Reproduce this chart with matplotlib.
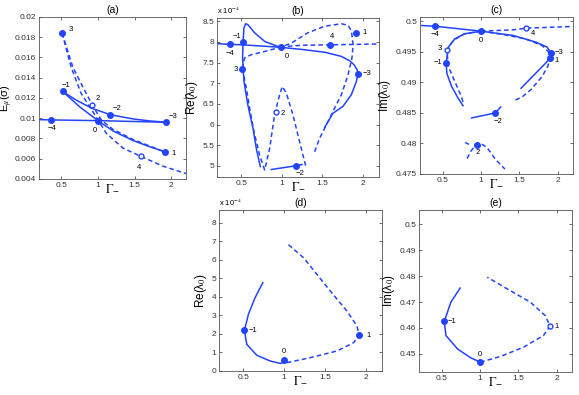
import matplotlib
matplotlib.use('Agg')
import matplotlib.pyplot as plt
from matplotlib.ticker import FuncFormatter

plt.rcParams['font.family'] = ['Liberation Sans', 'DejaVu Sans']
plt.rcParams['mathtext.fontset'] = 'stix'

# ---- panel (a): E_mu(sigma) vs Gamma_- ----
a_flat_x = [0.19, 0.364, 1.0, 1.932]
a_flat_y = [0.00986, 0.00983, 0.00976, 0.0096]
a_m2_x = [0.523, 0.705, 0.923, 1.168, 1.477, 1.705, 1.932]
a_m2_y = [0.01264, 0.01179, 0.01097, 0.01035, 0.00993, 0.00973, 0.0096]
a_m0_x = [0.523, 0.75, 1.0, 1.205, 1.477, 1.705, 1.918]
a_m0_y = [0.01264, 0.01114, 0.00976, 0.00875, 0.0078, 0.00718, 0.00666]
a_d2_x = [0.514, 0.659, 0.795, 0.923, 1.045, 1.205, 1.477, 1.705, 1.918]
a_d2_y = [0.0184, 0.01506, 0.0131, 0.01133, 0.00983, 0.0089, 0.0079, 0.00725, 0.00666]
a_d4_x = [0.514, 0.636, 0.773, 0.932, 1.114, 1.341, 1.582, 1.886, 2.2]
a_d4_y = [0.0184, 0.01506, 0.01244, 0.01065, 0.00852, 0.00705, 0.00624, 0.00526, 0.00453]
a_pts = {'-4': (0.364, 0.00983), '-1': (0.523, 0.01264), '0': (1.0, 0.00976),
         '-2': (1.168, 0.01035), '-3': (1.932, 0.0096), '1': (1.918, 0.00666),
         '3': (0.514, 0.0184), '2': (0.923, 0.01133), '4': (1.582, 0.00624)}
a_open = ['2', '4']

# ---- panel (b): Re(lambda_0), units of 1e-4 ----
b_main_x = [0.19, 0.364, 0.521, 0.98, 1.24, 1.53, 1.735, 1.84, 1.89, 1.93, 1.94,
            1.92, 1.858, 1.755, 1.63, 1.529]
b_main_y = [7.96, 7.94, 7.93, 7.87, 7.82, 7.75, 7.65, 7.54, 7.45, 7.33, 7.23,
            7.04, 6.72, 6.44, 6.27, 5.93]
b_bump_x = [0.735, 0.685, 0.644, 0.58, 0.533, 0.516, 0.521, 0.533, 0.553, 0.58,
            0.665, 0.79, 0.91, 0.98]
b_bump_y = [4.98, 5.42, 5.91, 6.48, 7.04, 7.61, 8.0, 8.34, 8.44, 8.42,
            8.22, 8.01, 7.92, 7.87]
b_bot_x = [0.87, 1.171, 1.25]
b_bot_y = [4.91, 5.0, 5.03]
b_d3_x = [0.512, 0.54, 0.62, 0.79, 0.98, 1.117, 1.32, 1.53, 1.735, 1.82, 1.86,
          1.88, 1.866, 1.817, 1.735, 1.63, 1.53, 1.467, 1.405]
b_d3_y = [7.35, 7.61, 7.69, 7.77, 7.87, 7.97, 8.22, 8.38, 8.44, 8.40, 8.26,
          7.93, 7.61, 7.2, 6.72, 6.31, 5.91, 5.67, 5.34]
b_dh_x = [0.98, 1.25, 1.59, 1.9, 2.2]
b_dh_y = [7.88, 7.92, 7.93, 7.94, 7.95]
b_dv_x = [0.512, 0.562, 0.603, 0.656, 0.726, 0.788, 0.85, 0.91, 0.973, 1.006,
          1.056, 1.138, 1.22, 1.302]
b_dv_y = [7.35, 6.88, 6.39, 5.83, 5.26, 4.9, 5.42, 6.23, 6.72, 6.92,
          6.76, 6.23, 5.58, 4.94]
b_pts = {'-4': (0.364, 7.94), '-1': (0.521, 8.0), '3': (0.512, 7.35), '0': (0.99, 7.87),
         '4': (1.59, 7.93), '1': (1.92, 8.22), '-3': (1.94, 7.23), '2': (0.924, 6.3),
         '-2': (1.171, 5.0)}
b_open = ['2']

# ---- panel (c): Im(lambda_0) ----
c_main_x = [0.22, 0.394, 1.0, 1.416, 1.711, 1.859, 1.914, 1.90, 1.859, 1.753, 1.627, 1.521]
c_main_y = [0.4993, 0.49919, 0.49838, 0.49768, 0.4966, 0.49579, 0.49482, 0.4940,
            0.49336, 0.49201, 0.49039, 0.48904]
c_left_x = [1.0, 0.783, 0.656, 0.572, 0.542, 0.551, 0.614, 0.698, 0.762]
c_left_y = [0.49838, 0.49795, 0.49714, 0.49579, 0.4932, 0.49147, 0.48931, 0.48742, 0.48618]
c_bot_x = [0.876, 1.184, 1.255]
c_bot_y = [0.48418, 0.48499, 0.48596]
c_dh_x = [1.0, 1.416, 1.584, 2.2]
c_dh_y = [0.49838, 0.4986, 0.49887, 0.49915]
c_dr_x = [1.0, 1.3, 1.584, 1.80, 1.88, 1.90, 1.87, 1.795, 1.648, 1.542, 1.416]
c_dr_y = [0.49838, 0.4978, 0.4971, 0.4960, 0.4950, 0.4940, 0.4926, 0.49093,
          0.48877, 0.48769, 0.48688]
c_d3_x = [1.0, 0.783, 0.635, 0.551, 0.572, 0.656, 0.74, 0.774]
c_d3_y = [0.49838, 0.49795, 0.49687, 0.49525, 0.49255, 0.49012, 0.48769, 0.48634]
c_d2_x = [0.816, 0.867, 0.951, 1.0, 1.078, 1.184, 1.31]
c_d2_y = [0.47754, 0.47878, 0.48002, 0.47995, 0.47932, 0.47743, 0.47581]
c_d2b_x = [0.80, 0.83]
c_d2b_y = [0.4801, 0.4799]
c_pts = {'-4': (0.394, 0.49919), '0': (1.0, 0.49838), '4': (1.584, 0.49887),
         '3': (0.551, 0.49525), '-1': (0.542, 0.4932), '-3': (1.914, 0.49482),
         '1': (1.90, 0.4940), '-2': (1.184, 0.48499), '2': (0.951, 0.47975)}
c_open = ['4', '3']

# ---- panel (d): Re(lambda_0), units of 1e-4 ----
d_sol_x = [0.738, 0.643, 0.561, 0.512, 0.541, 0.664, 0.828, 0.951, 0.985]
d_sol_y = [4.77, 3.96, 3.06, 2.19, 1.44, 0.85, 0.54, 0.41, 0.45]
d_dash_x = [1.033, 1.32, 1.648, 1.852, 1.922, 1.893, 1.77, 1.566, 1.402, 1.238, 1.041]
d_dash_y = [0.45, 0.72, 1.08, 1.53, 1.92, 2.43, 3.24, 4.32, 5.22, 6.12, 6.87]
d_pts = {'-1': (0.512, 2.19), '0': (1.0, 0.59), '1': (1.922, 1.92)}
d_open = []

# ---- panel (e): Im(lambda_0) ----
e_sol_x = [0.738, 0.617, 0.530, 0.552, 0.703, 0.876, 1.0]
e_sol_y = [0.4754, 0.47, 0.4625, 0.4571, 0.4519, 0.4485, 0.4468]
e_dash_x = [1.0, 1.265, 1.568, 1.827, 1.914, 1.849, 1.654, 1.352, 1.092]
e_dash_y = [0.4468, 0.449, 0.4526, 0.4571, 0.4607, 0.4648, 0.47, 0.4751, 0.4796]
e_pts = {'-1': (0.530, 0.4625), '0': (1.0, 0.4468), '1': (1.914, 0.4607)}
e_open = ['1']

col = '#2244ff'
dash = (0, (3, 2))
fmt = FuncFormatter(lambda v, p: '%g' % round(v, 6))


def setup(ax, title, ylabel, ylim, yticks):
    ax.set_xlim(0.2, 2.2)
    ax.set_ylim(*ylim)
    ax.set_xticks([0.5, 1, 1.5, 2])
    ax.set_yticks(yticks)
    ax.xaxis.set_major_formatter(fmt)
    ax.yaxis.set_major_formatter(fmt)
    ax.tick_params(direction='in', top=True, right=True, length=2.5, width=0.5,
                   labelsize=6, pad=2, colors='#333333')
    for s in ax.spines.values():
        s.set_linewidth(0.6)
        s.set_color('#555555')
    ax.set_title(title, fontsize=7.5, pad=3)
    ax.set_ylabel(ylabel, fontsize=8.5, labelpad=2)
    ax.set_xlabel(r'$\Gamma_{-}$', fontsize=9, labelpad=-4)


def marks(ax, pts, opened, offs):
    for k, (x, y) in pts.items():
        if k in opened:
            ax.plot(x, y, 'o', ms=3.5, mfc='white', mec=col, mew=1.0, zorder=5)
        else:
            ax.plot(x, y, 'o', ms=4, color=col, zorder=5)
        dx, dy = offs[k]
        ax.annotate(k.replace('-', '\u2212'), (x, y), xytext=(dx, dy),
                    textcoords='offset pixels', fontsize=5.5, ha='center', va='center')


fig = plt.figure(figsize=(5.79, 3.95), dpi=100)

# (a)
ax = fig.add_axes([0.0674, 0.547, 0.254, 0.410])
ax.plot(a_flat_x, a_flat_y, '-', color=col, lw=1.1)
ax.plot(a_m2_x, a_m2_y, '-', color=col, lw=1.1)
ax.plot(a_m0_x, a_m0_y, '-', color=col, lw=1.1)
ax.plot(a_d2_x, a_d2_y, linestyle=dash, color=col, lw=1.1)
ax.plot(a_d4_x, a_d4_y, linestyle=dash, color=col, lw=1.1)
marks(ax, a_pts, a_open, {'3': (9, 4), '-1': (3, 6), '2': (6, 6), '-2': (7, 6),
                          '-3': (7, 6), '-4': (1, -9), '0': (-3, -10), '1': (8, -1),
                          '4': (-2, -11)})
setup(ax, '(a)', r'E$_\mu$(σ)', (0.004, 0.02),
      [0.004, 0.006, 0.008, 0.01, 0.012, 0.014, 0.016, 0.018, 0.02])
ax.yaxis.label.set_fontsize(8)
ax.yaxis.set_label_coords(-0.16, 0.5)

# (b)
ax = fig.add_axes([0.3748, 0.552, 0.2798, 0.4025])
ax.plot(b_main_x, b_main_y, '-', color=col, lw=1.1)
ax.plot(b_bump_x, b_bump_y, '-', color=col, lw=1.1)
ax.plot(b_bot_x, b_bot_y, '-', color=col, lw=1.1)
ax.plot(b_d3_x, b_d3_y, linestyle=dash, color=col, lw=1.1)
ax.plot(b_dh_x, b_dh_y, linestyle=dash, color=col, lw=1.1)
ax.plot(b_dv_x, b_dv_y, linestyle=dash, color=col, lw=1.1)
marks(ax, b_pts, b_open, {'-4': (0, -9), '-1': (-6, 5), '3': (-7, -1), '0': (6, -9),
                          '4': (2, 8), '1': (8, 0), '-3': (9, 0), '2': (7, -1),
                          '-2': (4, -8)})
setup(ax, '(b)', r'Re(λ$_0$)', (4.73, 8.58), [5, 5.5, 6, 6.5, 7, 7.5, 8, 8.5])
ax.text(0.0, 1.01, r'x 10$^{-4}$', transform=ax.transAxes, fontsize=5.5, va='bottom')

# (c)
ax = fig.add_axes([0.7254, 0.5595, 0.2642, 0.3975])
ax.plot(c_main_x, c_main_y, '-', color=col, lw=1.1)
ax.plot(c_left_x, c_left_y, '-', color=col, lw=1.1)
ax.plot(c_bot_x, c_bot_y, '-', color=col, lw=1.1)
ax.plot(c_dh_x, c_dh_y, linestyle=dash, color=col, lw=1.1)
ax.plot(c_dr_x, c_dr_y, linestyle=dash, color=col, lw=1.1)
ax.plot(c_d3_x, c_d3_y, linestyle=dash, color=col, lw=1.1)
ax.plot(c_d2_x, c_d2_y, linestyle=dash, color=col, lw=1.1)
ax.plot(c_d2b_x, c_d2b_y, '-', color=col, lw=1.1)
marks(ax, c_pts, c_open, {'-4': (0, -8), '0': (0, -9), '4': (7, -5), '3': (-7, 2),
                          '-1': (-8, 0), '-3': (8, 0), '1': (7, -3), '-2': (3, -9),
                          '2': (0, -8)})
setup(ax, '(c)', r'Im(λ$_0$)', (0.475, 0.5007),
      [0.475, 0.48, 0.485, 0.49, 0.495, 0.5])

# (d)
ax = fig.add_axes([0.3782, 0.0608, 0.2815, 0.4076])
ax.plot(d_sol_x, d_sol_y, '-', color=col, lw=1.1)
ax.plot(d_dash_x, d_dash_y, linestyle=dash, color=col, lw=1.1)
marks(ax, d_pts, d_open, {'-1': (9, 0), '0': (0, 9), '1': (9, 0)})
setup(ax, '(d)', r'Re(λ$_0$)', (0, 8.7), [0, 1, 2, 3, 4, 5, 6, 7, 8])
ax.text(0.0, 1.01, r'x 10$^{-4}$', transform=ax.transAxes, fontsize=5.5, va='bottom')

# (e)
ax = fig.add_axes([0.7237, 0.0582, 0.2642, 0.410])
ax.plot(e_sol_x, e_sol_y, '-', color=col, lw=1.1)
ax.plot(e_dash_x, e_dash_y, linestyle=dash, color=col, lw=1.1)
marks(ax, e_pts, e_open, {'-1': (8, 0), '0': (0, 8), '1': (6, 0)})
setup(ax, '(e)', r'Im(λ$_0$)', (0.443, 0.5055), [0.45, 0.46, 0.47, 0.48, 0.49, 0.5])

fig.savefig('out.png', dpi=100)
